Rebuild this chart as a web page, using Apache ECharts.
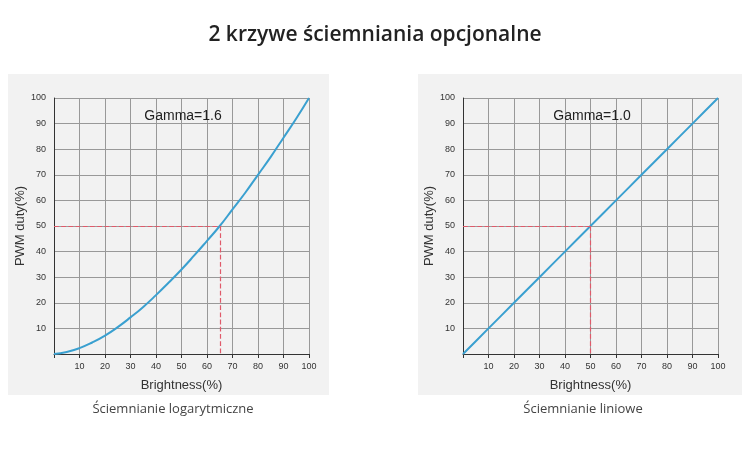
<!DOCTYPE html><html><head><meta charset="utf-8"><script src="https://cdn.jsdelivr.net/npm/echarts@6/dist/echarts.min.js"></script>
<style>body{margin:0;background:#fff}#c{width:750px;height:458px}</style></head><body><div id="c"></div><script>
const brightness=[0,5,10,15,20,25,30,35,40,45,50,55,60,65,70,75,80,85,90,95,100];
const gammaCurve=[0,0.8,2.3,4.5,7.2,10.5,14.3,18.4,23,27.9,33,38.5,44.2,50,56.5,63,70,77,84.5,92,100];
const linearCurve=[0,5,10,15,20,25,30,35,40,45,50,55,60,65,70,75,80,85,90,95,100];
const ticks=[0,10,20,30,40,50,60,70,80,90,100];
const lefts=[54,463];
const ax=i=>({gridIndex:i,type:'value',min:0,max:100,interval:10,
 axisLine:{show:true,lineStyle:{color:'#333',width:1}},axisTick:{show:true,length:4,inside:false,lineStyle:{color:'#333'}},
 splitLine:{show:true,lineStyle:{color:'#999',width:1}},
 axisLabel:{fontSize:9,color:'#333',fontFamily:'Liberation Sans',formatter:v=>v===0?'':v}});
const xa=[0,1].map(i=>Object.assign(ax(i),{name:'Brightness(%)',nameLocation:'middle',nameGap:25,nameTextStyle:{fontSize:13,color:'#333',fontFamily:'Liberation Sans'}}));
const ya=[0,1].map(i=>Object.assign(ax(i),{axisTick:{show:false},name:'PWM duty(%)',nameLocation:'middle',nameGap:27,nameTextStyle:{fontSize:13,color:'#333',fontFamily:'Liberation Sans'}}));
const dash={type:'dashed',color:'#e05a6a',width:1.2};
const chart=echarts.init(document.getElementById('c'));
chart.setOption({
 graphic:[{type:'rect',shape:{x:8,y:74,width:321,height:321},style:{fill:'#f2f2f2'},z:-10},
  {type:'rect',shape:{x:418,y:74,width:324,height:321},style:{fill:'#f2f2f2'},z:-10}],
 title:[{text:'2 krzywe ściemniania opcjonalne',left:'center',top:20,textStyle:{fontSize:21,fontWeight:600,color:'#222',fontFamily:'Open Sans'}},
  {text:'Ściemnianie logarytmiczne',left:168,textAlign:'center',top:398,textStyle:{fontSize:13,fontWeight:'normal',color:'#444',fontFamily:'Open Sans'}},
  {text:'Ściemnianie liniowe',left:578,textAlign:'center',top:398,textStyle:{fontSize:13,fontWeight:'normal',color:'#444',fontFamily:'Open Sans'}},
  {text:'Gamma=1.6',left:178,textAlign:'center',top:104,textStyle:{fontSize:14,fontWeight:'normal',color:'#222',fontFamily:'Liberation Sans'}},
  {text:'Gamma=1.0',left:587,textAlign:'center',top:104,textStyle:{fontSize:14,fontWeight:'normal',color:'#222',fontFamily:'Liberation Sans'}}],
 grid:lefts.map(l=>({left:l,top:98,width:255,height:256})),
 xAxis:xa,yAxis:ya,
 series:[
  {type:'line',xAxisIndex:0,yAxisIndex:0,data:brightness.map((b,i)=>[b,gammaCurve[i]]),smooth:true,symbol:'none',lineStyle:{color:'#3aa0d0',width:2},
   markLine:{symbol:'none',silent:true,label:{show:false},lineStyle:dash,data:[[{coord:[0,50]},{coord:[65,50]}],[{coord:[65,50]},{coord:[65,0]}]]}},
  {type:'line',xAxisIndex:1,yAxisIndex:1,data:brightness.map((b,i)=>[b,linearCurve[i]]),symbol:'none',lineStyle:{color:'#3aa0d0',width:2},
   markLine:{symbol:'none',silent:true,label:{show:false},lineStyle:dash,data:[[{coord:[0,50]},{coord:[50,50]}],[{coord:[50,50]},{coord:[50,0]}]]}}
 ]});
</script></body></html>
